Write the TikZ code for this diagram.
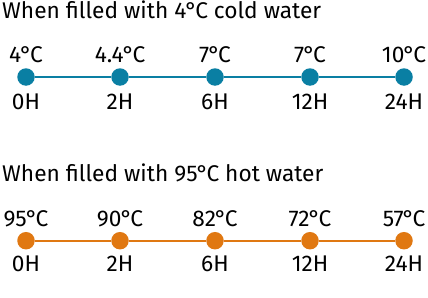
\documentclass[tikz,border=0pt]{standalone}
\usepackage{fontspec}
\setmainfont{Fira Sans}
\definecolor{coldblue}{HTML}{0A7FA3}
\definecolor{hotorange}{HTML}{E07812}
\newcommand{\dC}{\kern-1pt°\kern-2pt C}

\begin{document}
\begin{tikzpicture}[x=1pt, y=-1pt, font=\fontsize{22.7}{26}\selectfont,
    txt/.style={anchor=base, inner sep=0pt},
    dot/.style={circle, fill=#1, minimum size=17.5pt, inner sep=0pt},
    link/.style={draw=#1, line width=2pt}]
    \useasboundingbox (0,0) rectangle (428,297);

    % cold water
    \node[txt, anchor=base west] (coldtitle) at (2,18.3) {When filled with 4\dC{} cold water};
    \node[dot=coldblue] (c0) at (26,77) {};
    \node[dot=coldblue] (c2) at (120,77) {};
    \node[dot=coldblue] (c6) at (215,77) {};
    \node[dot=coldblue] (c12) at (310,77) {};
    \node[dot=coldblue] (c24) at (404,77) {};
    \draw[link=coldblue] (c0) -- (c2) -- (c6) -- (c12) -- (c24);
    \node[txt] (ct0) at (26,62.7) {4\dC};
    \node[txt] (ct2) at (120,62.7) {4.4\dC};
    \node[txt] (ct6) at (215,62.7) {7\dC};
    \node[txt] (ct12) at (310,62.7) {7\dC};
    \node[txt] (ct24) at (404,62.7) {10\dC};
    \node[txt] (ch0) at (26,109) {0H};
    \node[txt] (ch2) at (120,109) {2H};
    \node[txt] (ch6) at (215,109) {6H};
    \node[txt] (ch12) at (310,109) {12H};
    \node[txt] (ch24) at (404,109) {24H};

    % hot water
    \node[txt, anchor=base west] (hottitle) at (2,181.7) {When filled with 95\dC{} hot water};
    \node[dot=hotorange] (h0) at (26,240.7) {};
    \node[dot=hotorange] (h2) at (120,240.7) {};
    \node[dot=hotorange] (h6) at (215,240.7) {};
    \node[dot=hotorange] (h12) at (310,240.7) {};
    \node[dot=hotorange] (h24) at (404,240.7) {};
    \draw[link=hotorange] (h0) -- (h2) -- (h6) -- (h12) -- (h24);
    \node[txt] (ht0) at (26,226) {95\dC};
    \node[txt] (ht2) at (120,226) {90\dC};
    \node[txt] (ht6) at (215,226) {82\dC};
    \node[txt] (ht12) at (310,226) {72\dC};
    \node[txt] (ht24) at (404,226) {57\dC};
    \node[txt] (hh0) at (26,271.7) {0H};
    \node[txt] (hh2) at (120,271.7) {2H};
    \node[txt] (hh6) at (215,271.7) {6H};
    \node[txt] (hh12) at (310,271.7) {12H};
    \node[txt] (hh24) at (404,271.7) {24H};
\end{tikzpicture}
\end{document}
